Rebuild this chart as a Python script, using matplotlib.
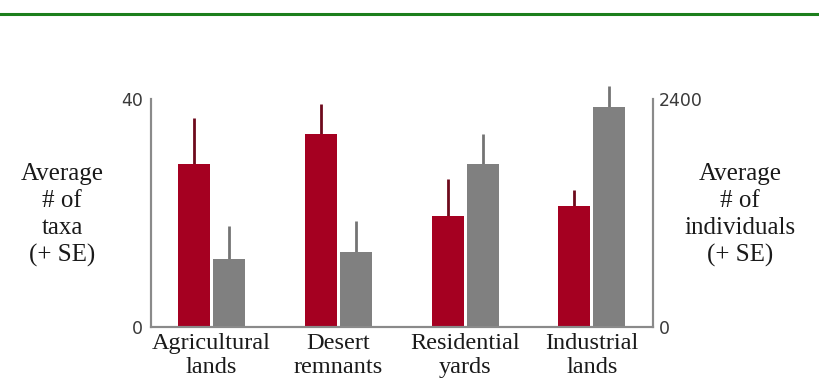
import numpy as np
import matplotlib.pyplot as plt
from matplotlib.lines import Line2D

# Land-use categories and measured means with standard errors
categories = ['Agricultural\nlands', 'Desert\nremnants', 'Residential\nyards', 'Industrial\nlands']
taxa = [28.6, 33.8, 19.5, 21.3]
taxa_se = [8.1, 5.3, 6.5, 2.7]
individuals = [716, 793, 1713, 2318]
individuals_se = [350, 323, 315, 222]

plt.rcParams['font.family'] = ['Liberation Serif', 'DejaVu Serif']
text_color = '#1a1a1a'
red = '#a50021'
gray = '#808080'
spine_color = '#8a8a8a'

fig = plt.figure(figsize=(8.19, 3.84), dpi=100)
ax = fig.add_axes([0.1844, 0.1484, 0.6126, 0.594])
ax2 = ax.twinx()

x = np.arange(len(categories))
width = 0.252
offset = 0.138

ax.bar(x - offset, taxa, width, color=red, zorder=2)
ax.errorbar(x - offset, taxa, yerr=[np.zeros(len(taxa)), taxa_se], fmt='none',
            ecolor='#6e0a1c', elinewidth=2, capsize=0, clip_on=False, zorder=1)

ax2.bar(x + offset, individuals, width, color=gray, zorder=2)
ax2.errorbar(x + offset, individuals, yerr=[np.zeros(len(individuals)), individuals_se],
             fmt='none', ecolor='#747474', elinewidth=2, capsize=0, clip_on=False, zorder=1)

ax.set_xlim(-0.476, 3.48)
ax.set_ylim(0, 40)
ax2.set_ylim(0, 2400)

ax.set_yticks([0, 40])
ax2.set_yticks([0, 2400])
ax.set_xticks(x)
ax.set_xticklabels(categories, fontsize=17.5, color=text_color, linespacing=1.2)

# axis numbers are set in a plain sans face
for a, pad in ((ax, 5.8), (ax2, 4.3)):
    a.tick_params(axis='y', length=0, pad=pad, labelsize=12.5, labelcolor='#3a3a3a')
    for lbl in a.get_yticklabels():
        lbl.set_family('DejaVu Sans')
ax.tick_params(axis='x', length=0, pad=4)

for a in (ax, ax2):
    a.spines['top'].set_visible(False)
    for s in ('left', 'right', 'bottom'):
        a.spines[s].set_color(spine_color)
        a.spines[s].set_linewidth(1.5)

fig.text(62 / 819, 0.44, 'Average\n# of\ntaxa\n(+ SE)', ha='center', va='center',
         fontsize=18, color=text_color, linespacing=1.3)
fig.text(740 / 819, 0.44, 'Average\n# of\nindividuals\n(+ SE)', ha='center', va='center',
         fontsize=18, color=text_color, linespacing=1.3)

# green rule across the top
fig.add_artist(Line2D([0, 1], [0.9635, 0.9635], color='#1c7f1c', linewidth=2.2,
                      transform=fig.transFigure))

fig.savefig('out.png', dpi=100)
